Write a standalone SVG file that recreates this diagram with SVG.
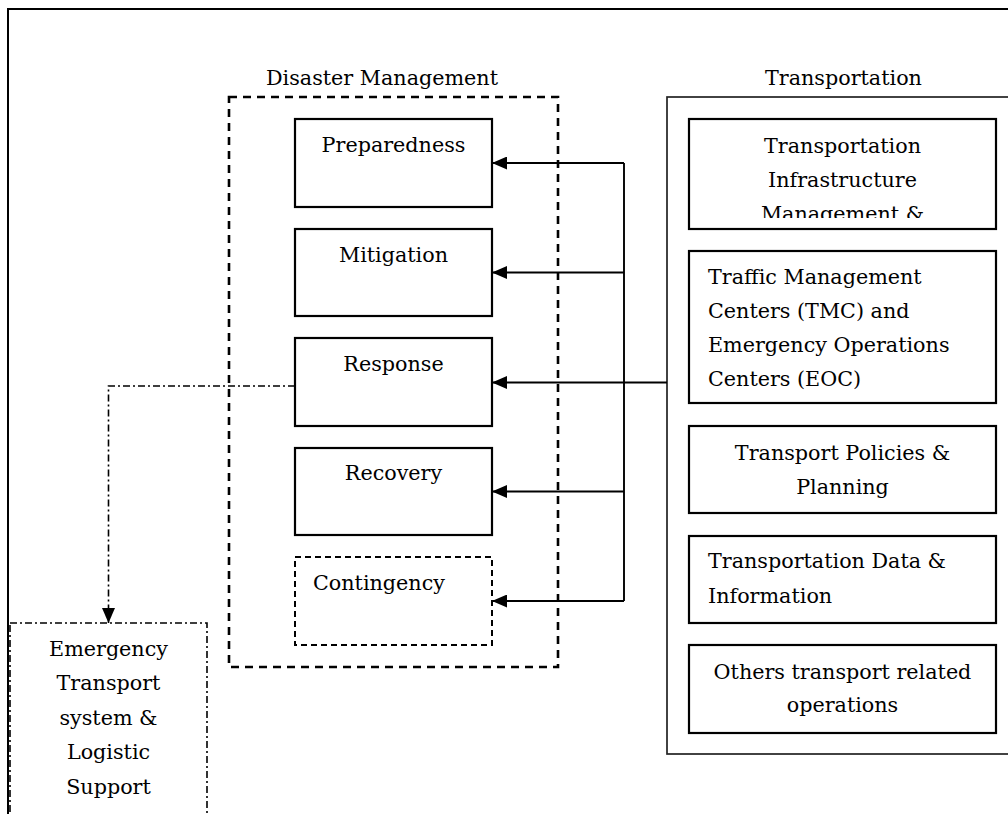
<svg xmlns="http://www.w3.org/2000/svg" width="1008" height="814" viewBox="0 0 1008 814">
<style>
text{font-family:"DejaVu Serif","Liberation Serif",serif;font-size:20.7px;fill:#000}
.c{text-anchor:middle}
.box{fill:#fff;stroke:#000;stroke-width:2.2}
.dash{fill:none;stroke:#000;stroke-width:2.6;stroke-dasharray:8 6}
.dash2{fill:#fff;stroke:#000;stroke-width:2;stroke-dasharray:6 4}
.dd{fill:none;stroke:#000;stroke-width:1.6;stroke-dasharray:7 3 2 3}
.ln{fill:none;stroke:#000;stroke-width:1.9}
</style>
<defs>
<marker id="ah" viewBox="0 0 15 13" refX="15" refY="6.5" markerWidth="15" markerHeight="13" markerUnits="userSpaceOnUse" orient="auto">
<path d="M0,0 L15,6.5 L0,13 Z" fill="#000"/>
</marker>
<clipPath id="clip1"><rect x="689" y="119" width="307" height="99"/></clipPath>
</defs>
<rect x="0" y="0" width="1008" height="814" fill="#fff"/>
<g id="frame"><rect x="8" y="9" width="1020" height="830" fill="none" stroke="#000" stroke-width="2"/></g>

<g id="disaster-management">
<rect class="dash" x="229" y="97" width="329" height="570"/>
<text x="266" y="85">Disaster Management</text>
</g>
<g id="preparedness"><rect class="box" x="295" y="119" width="197" height="88"/><text class="c" x="393.5" y="152">Preparedness</text></g>
<g id="mitigation"><rect class="box" x="295" y="229" width="197" height="87"/><text class="c" x="393.5" y="262">Mitigation</text></g>
<g id="response"><rect class="box" x="295" y="338" width="197" height="88"/><text class="c" x="393.5" y="371">Response</text></g>
<g id="recovery"><rect class="box" x="295" y="448" width="197" height="87"/><text class="c" x="393.5" y="480">Recovery</text></g>
<g id="contingency"><rect class="dash2" x="295" y="557" width="197" height="88"/><text x="313" y="590">Contingency</text></g>

<g id="transportation">
<rect x="667" y="97" width="360" height="657" fill="none" stroke="#222" stroke-width="1.7"/>
<text x="765" y="85">Transportation</text>
</g>
<g id="t-infrastructure"><rect class="box" x="689" y="119" width="307" height="110"/>
<g clip-path="url(#clip1)"><text class="c" x="842.5" y="153">Transportation</text><text class="c" x="842.5" y="187">Infrastructure</text><text class="c" x="842.5" y="221">Management &amp;</text></g></g>
<g id="t-tmc"><rect class="box" x="689" y="251" width="307" height="152"/>
<text x="708" y="284">Traffic Management</text><text x="708" y="317.5">Centers (TMC) and</text><text x="708" y="352">Emergency Operations</text><text x="708" y="386">Centers (EOC)</text></g>
<g id="t-policies"><rect class="box" x="689" y="426" width="307" height="87"/>
<text class="c" x="842.5" y="459.5">Transport Policies &amp;</text><text class="c" x="842.5" y="493.5">Planning</text></g>
<g id="t-data"><rect class="box" x="689" y="536" width="307" height="87"/>
<text x="708" y="568">Transportation Data &amp;</text><text x="708" y="602.5">Information</text></g>
<g id="t-others"><rect class="box" x="689" y="645" width="307" height="88"/>
<text class="c" x="842.5" y="678.5">Others transport related</text><text class="c" x="842.5" y="712">operations</text></g>

<g id="emergency"><rect class="dd" x="10" y="623" width="197" height="220" fill="#fff"/>
<text class="c" x="108.5" y="656">Emergency</text><text class="c" x="108.5" y="690">Transport</text><text class="c" x="108.5" y="724.5">system &amp;</text><text class="c" x="108.5" y="759">Logistic</text><text class="c" x="108.5" y="793.5">Support</text></g>

<g id="connectors">
<line class="ln" x1="624" y1="163" x2="624" y2="601"/>
<line class="ln" x1="624" y1="163" x2="492" y2="163" marker-end="url(#ah)"/>
<line class="ln" x1="624" y1="272.5" x2="492" y2="272.5" marker-end="url(#ah)"/>
<line class="ln" x1="667" y1="382.5" x2="492" y2="382.5" marker-end="url(#ah)"/>
<line class="ln" x1="624" y1="491.5" x2="492" y2="491.5" marker-end="url(#ah)"/>
<line class="ln" x1="624" y1="601" x2="492" y2="601" marker-end="url(#ah)"/>
<path class="dd" d="M295,386 H108.5 V623" marker-end="url(#ah)"/>
</g>
</svg>
